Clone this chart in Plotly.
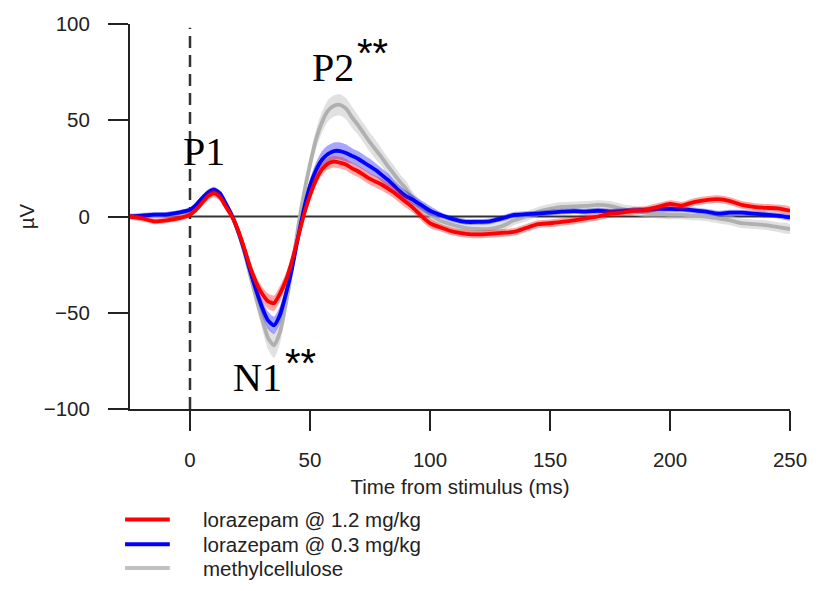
import plotly.graph_objects as go

# ---------------- data ----------------
time_ms = ([-25, -20, -15, -10, -5]
           + [0, 2.5, 5, 7.5, 10, 12.5, 15, 17.5, 20, 22.5, 25, 27.5, 30, 32.5, 35, 37.5, 40,
              42.5, 45, 47.5, 50, 52.5, 55, 57.5, 60, 62.5, 65, 67.5, 70, 72.5, 75, 77.5, 80,
              82.5, 85, 87.5, 90, 92.5, 95, 97.5, 100]
           + [105, 110, 115, 120, 125, 130, 135, 140, 145, 150, 155, 160, 165, 170, 175,
              180, 185, 190, 195, 200, 205, 210, 215, 220, 225, 230, 235, 240, 245, 250])

lzp_high = ([0, -1, -2.5, -2, -1]
            + [1, 3.5, 7, 10.5, 12, 10, 5, 0, -7, -16, -26, -34, -40, -44, -45, -40, -33,
               -23, -11, 1, 11, 19, 24.5, 27.5, 28.5, 28, 27, 25, 23.5, 21.5, 19.5, 18, 16.5,
               14.5, 12.5, 10, 7.5, 5, 2, -1, -3.5]
            + [-6, -8, -9, -9.3, -9, -8.5, -8, -6, -4, -3.5, -2.8, -2, -1, 0, 1.5,
               2, 3, 3.5, 5, 6.5, 5.7, 7.5, 8.5, 9, 8, 6, 5, 4.5, 4.2, 3])

lzp_low = ([0, 0.5, 1, 1, 2]
           + [3.5, 6, 9.5, 12.5, 14, 12, 6.5, 0.5, -7.5, -17, -28, -38, -47, -54, -56.5, -51, -40,
              -27, -11, 4, 16, 24, 29.5, 32.5, 34, 34, 33, 31.5, 30, 28, 26, 24, 21.5,
              19, 16, 13, 10.5, 9, 7, 5, 3]
           + [0.5, -1.5, -2.8, -2.8, -2.5, -1, 0.8, 1.2, 1.5, 2, 2.5, 2.8, 2.5, 3, 2.5,
              2.8, 3.2, 3.5, 4, 4, 3.8, 3.2, 2.5, 1.5, 2, 2, 1.5, 1, 0.5, -0.5])

vehicle = ([0, 0.5, 0.5, 1, 1.5]
           + [3, 5.5, 9, 12, 13.5, 11.5, 6, 0, -8, -18, -30, -42, -53, -63, -67, -60, -45,
              -27, -6, 12, 27, 40, 49, 55, 57.5, 58, 56, 51.5, 47.5, 43, 38.5, 34.5, 30.5,
              26, 22, 18, 14.5, 10, 6, 3, 1]
           + [-2.5, -4.5, -6, -6.5, -6.5, -5, -2, 0, 2.5, 4, 5, 5.2, 5.5, 6, 5.5,
              4, 3, 2, 1.5, 1, 1, 0.5, 0, -1, -2, -3.5, -4, -4.5, -5.5, -6.5])

# confidence band half-widths
lzp_high_ci = ([1.5, 1.5, 1.5, 1.5, 1.5]
               + [1.5, 1.5, 1.5, 2, 2, 2, 2, 2, 2.5, 2.5, 3, 3, 3.5, 4, 4, 4, 3.5,
                  3, 3, 3, 3, 3, 3, 3, 3, 3, 3, 3, 3, 3, 3, 3, 3,
                  3, 3, 3, 3, 2.5, 2.5, 2.5, 2.5]
               + [2] * 30)
lzp_low_ci = ([1.2, 1.2, 1.2, 1.2, 1.2]
              + [1.2, 1.2, 1.5, 1.5, 1.5, 1.5, 1.5, 1.5, 2, 2.5, 3, 3.5, 4, 4.5, 4.5, 4.5, 4,
                 3.5, 3, 3, 3.5, 4, 4.5, 4.5, 4.5, 4.5, 4.5, 4, 4, 4, 4, 3.5, 3.5,
                 3.5, 3, 3, 3, 2.5, 2.5, 2.5, 2.5]
              + [1.5] * 30)
vehicle_ci = ([1.5, 1.5, 1.5, 1.5, 1.5]
              + [1.5, 1.5, 1.5, 1.5, 1.5, 1.5, 2, 2, 2.5, 3, 3.5, 4.5, 5, 6, 6.5, 6, 5,
                 4, 3.5, 4, 4.5, 5, 5.5, 5.5, 5.5, 5.5, 5.5, 5.5, 5, 5, 5, 5, 4.5,
                 4.5, 4.5, 4, 4, 3.5, 3.5, 3, 3]
              + [2.5] * 30)

series_names = ["lorazepam @ 1.2 mg/kg", "lorazepam @ 0.3 mg/kg", "methylcellulose"]
x_ticks = [0, 50, 100, 150, 200, 250]
y_ticks = [-100, -50, 0, 50, 100]

# ---------------- figure ----------------
FONT = "Liberation Sans, Arial, sans-serif"
SERIF = "Liberation Serif, Times New Roman, serif"
TXT = "#222222"
FS = 20.5

fig = go.Figure()

styles = [
    # (mean, ci, line colour, band colour)
    (vehicle, vehicle_ci, "#b0b0b0", "rgba(195,195,195,0.5)"),
    (lzp_low, lzp_low_ci, "#0000ff", "rgba(0,0,255,0.35)"),
    (lzp_high, lzp_high_ci, "#ff0000", "rgba(255,0,0,0.35)"),
]

for mean, ci, lc, bc in styles:
    upper = [m + c for m, c in zip(mean, ci)]
    lower = [m - c for m, c in zip(mean, ci)]
    fig.add_trace(go.Scatter(
        x=time_ms + time_ms[::-1], y=upper + lower[::-1],
        fill="toself", fillcolor=bc, mode="lines",
        line=dict(width=0, shape="spline", smoothing=0.6),
        hoverinfo="skip", showlegend=False))
    fig.add_trace(go.Scatter(
        x=time_ms, y=mean, mode="lines",
        line=dict(color=lc, width=3.8, shape="spline", smoothing=0.6),
        showlegend=False))

# zero line and stimulus onset
fig.add_shape(type="line", xref="x", yref="y", x0=-25, x1=250, y0=0, y1=0,
              line=dict(color="#333333", width=2), layer="below")
fig.add_shape(type="line", xref="x", yref="y", x0=0, x1=0, y0=-100, y1=98,
              line=dict(color="#333333", width=2.5, dash="12px,7px"), layer="below")

# component labels
for txt, x, y in [("P1", 5.9, 34), ("P2", 59.6, 77.5), ("N1", 28.2, -83.7)]:
    fig.add_annotation(x=x, y=y, xref="x", yref="y", text=txt, showarrow=False,
                       font=dict(family=SERIF, size=40, color="black"))
for x, y in [(76, 85), (46, -76)]:
    fig.add_annotation(x=x, y=y, xref="x", yref="y", text="**", showarrow=False,
                       font=dict(family=FONT, size=40, color="black"))

# manual legend
leg_colors = ["#ff0000", "#0000ff", "#c0c0c0"]
leg_y = [-0.287, -0.351, -0.413]
for name, col, yy in zip(series_names, leg_colors, leg_y):
    fig.add_shape(type="line", xref="paper", yref="paper", x0=-0.0075, x1=0.0603,
                  y0=yy, y1=yy, line=dict(color=col, width=4))
    fig.add_annotation(xref="paper", yref="paper", x=0.108, y=yy, text=name,
                       showarrow=False, xanchor="left", yanchor="middle",
                       font=dict(family=FONT, size=FS, color=TXT))

axis_common = dict(showline=True, linecolor="#222222", linewidth=2,
                   ticks="outside", ticklen=20, tickwidth=2, tickcolor="#222222",
                   showgrid=False, zeroline=False,
                   tickfont=dict(family=FONT, size=FS, color=TXT))

fig.update_layout(
    width=819, height=591,
    margin=dict(l=130, r=26, t=19, b=182),
    plot_bgcolor="white", paper_bgcolor="white",
    xaxis=dict(range=[-25, 250], tickvals=x_ticks, ticklabelstandoff=11,
               title=dict(text="Time from stimulus (ms)", standoff=10,
                          font=dict(family=FONT, size=FS, color=TXT)),
               **axis_common),
    yaxis=dict(range=[-100, 100], tickvals=y_ticks, ticklabelstandoff=14,
               title=dict(text="µV", standoff=4,
                          font=dict(family=FONT, size=FS, color=TXT)),
               **axis_common),
    showlegend=False,
)

fig.write_html("out.html")
